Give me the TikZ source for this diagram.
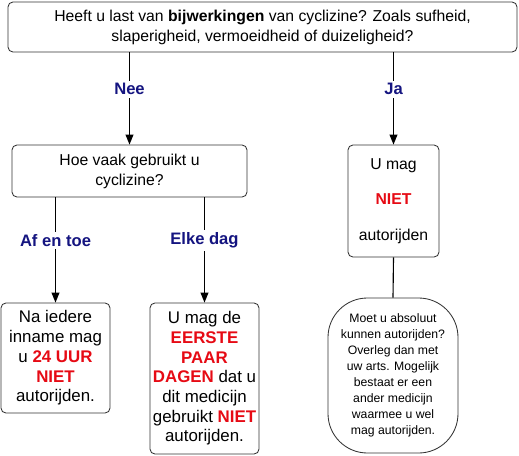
\documentclass[tikz,border=0pt]{standalone}
\usepackage{fontspec}
\setmainfont{Liberation Sans}
\usepackage{xcolor}
\usepackage{tikz}
\usetikzlibrary{arrows.meta}

\begin{document}
\begin{tikzpicture}[x=0.025cm,y=-0.025cm,
		>={Triangle[length=7pt,width=5.5pt]},
		vak/.style={draw=black!80,line width=0.6pt,rounded corners=3.5pt,align=center,
			inner sep=0pt,font=\fontsize{11.2}{14.2}\selectfont},
		groot/.style={vak,font=\fontsize{12}{14}\selectfont},
		ovaal/.style={vak,rounded corners=28pt,font=\fontsize{8.7}{11.4}\selectfont},
		pijl/.style={->,line width=0.8pt},
		keuze/.style={fill=white,text=mynavy,font=\fontsize{11.8}{13}\selectfont\bfseries,inner sep=2pt}]
				% 颜色
				\definecolor{mynavy}{RGB}{20,20,128}
				\definecolor{myred}{RGB}{230,10,20}
				\newcommand{\rood}[1]{\textcolor{myred}{\textbf{#1}}}
				\useasboundingbox (0,0) rectangle (519,455);
				
				% 问题框
				\node[vak,minimum width=509*0.025cm,minimum height=50*0.025cm] (vraag) at (262.5,27)
				{Heeft u last van \textbf{bijwerkingen} van cyclizine? Zoals sufheid,\\
					slaperigheid, vermoeidheid of duizeligheid?};
				\node[vak,minimum width=235*0.025cm,minimum height=52*0.025cm] (hoevaak) at (129.5,171)
				{Hoe vaak gebruikt u\\ cyclizine?};
				\node[vak,minimum width=91*0.025cm,minimum height=112*0.025cm] (niet) at (393.5,201)
				{U mag\\[11pt] \rood{NIET}\\[11pt] autorijden};
				
				% 结果框
				\node[groot,minimum width=109*0.025cm,minimum height=110*0.025cm] (soms) at (55.5,358)
				{Na iedere\\ inname mag\\ u \rood{24 UUR}\\ \rood{NIET}\\ autorijden.};
				\node[groot,minimum width=109*0.025cm,minimum height=151*0.025cm] (dagelijks) at (204.5,378.5)
				{U mag de\\ \rood{EERSTE}\\ \rood{PAAR}\\ \rood{DAGEN} dat u\\ dit medicijn\\
					gebruikt \rood{NIET}\\ autorijden.};
				\node[ovaal,minimum width=130*0.025cm,minimum height=155*0.025cm] (overleg) at (393,375.5)
				{Moet u absoluut\\ kunnen autorijden?\\ Overleg dan met\\ uw arts. Mogelijk\\
					bestaat er een\\ ander medicijn\\ waarmee u wel\\ mag autorijden.};
				
				% 箭头
				\draw[pijl] (vraag.south -| hoevaak.north) -- node[keuze,pos=0.4] {Nee} (hoevaak.north);
				\draw[pijl] (vraag.south -| niet.north) -- node[keuze,pos=0.4] {Ja} (niet.north);
				\draw[pijl] (hoevaak.south -| soms.north) -- node[keuze,pos=0.41] {Af en toe} (soms.north);
				\draw[pijl] (hoevaak.south -| dagelijks.north) -- node[keuze,pos=0.41] {Elke dag} (dagelijks.north);
				\draw[line width=0.8pt] (niet.south) -- (overleg.north);
				
\end{tikzpicture}
\end{document}
